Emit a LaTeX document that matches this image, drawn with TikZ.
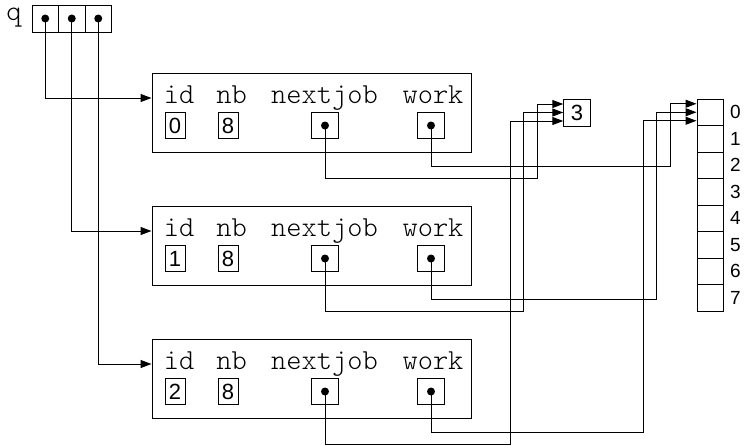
\documentclass[tikz,border=0pt]{standalone}
\usepackage{fontspec}
\setsansfont{Liberation Sans}
\newfontfamily\thinmono{Latin Modern Mono Light}
\usepackage{tikz}
\usetikzlibrary{arrows.meta, positioning}

\tikzstyle{record} = [draw, rectangle, minimum width=319pt, minimum height=79pt, inner sep=0]
\tikzstyle{cell} = [draw, rectangle, minimum width=26.5pt, minimum height=26.5pt, inner sep=0, font=\sffamily\fontsize{22}{22}\selectfont]
\tikzstyle{numbox} = [cell, minimum width=20pt]
\tikzstyle{field} = [inner sep=0, font=\thinmono\fontsize{29}{29}\selectfont]
\tikzstyle{dot} = [circle, fill, inner sep=0, minimum size=8pt]
\tikzstyle{idx} = [inner sep=0, font=\sffamily\fontsize{19}{19}\selectfont]
\tikzstyle{arrow} = [draw, -{Triangle[length=11pt,width=8pt]}]

\begin{document}
\begin{tikzpicture}[x=1pt, y=-1pt, line width=1pt]
    \useasboundingbox (0,0) rectangle (745,445);

    % queue head
    \node (qlabel) [field, anchor=base] at (14,20.5) {q};
    \foreach \k/\x in {a/45.25, b/71.75, c/98.25} {
        \node (q\k) [cell, minimum height=27pt] at (\x,18.5) {};
        \node (qd\k) [dot] at (q\k) {};
    }

    % job records
    \foreach \i/\v/\yy in {1/0/0, 2/1/133, 3/2/266} {
        \node (rec\i) [record] at (311.5,{112.5+\yy}) {};
        \node (id\i) [field, anchor=base] at (179,{103+\yy}) {id};
        \node (nb\i) [field, anchor=base] at (231.5,{103+\yy}) {nb};
        \node (nj\i) [field, anchor=base] at (324.5,{103+\yy}) {nextjob};
        \node (wk\i) [field, anchor=base] at (433,{103+\yy}) {work};
        \node (idv\i) [numbox] at (175,{125.5+\yy}) {\v};
        \node (nbv\i) [numbox] at (228,{125.5+\yy}) {8};
        \node (njv\i) [cell] at (325,{125.5+\yy}) {};
        \node (wkv\i) [cell] at (431,{125.5+\yy}) {};
        \node (njd\i) [dot] at (njv\i) {};
        \node (wkd\i) [dot] at (wkv\i) {};
    }

    % shared job and work array
    \node (three) [cell, minimum height=27pt] at (577,112.5) {3};
    \foreach \k in {0,...,7} {
        \node (arr\k) [cell, minimum width=26pt] at (710,{112.25+26.5*\k}) {};
        \node (ix\k) [idx, right=6pt of arr\k] {\k};
    }

    \foreach \k/\i in {a/1, b/2, c/3}
        \draw [arrow] (qd\k.center) |- ([yshift=14.5pt]rec\i.west);

    \foreach \i/\dy/\dx in {1/8.5pt/26pt, 2/0pt/40pt, 3/-8.5pt/53pt} {
        \draw [arrow] (njd\i.center) -- ++(0,52.5) -| ([xshift=-\dx, yshift=\dy]three.west) -- ([yshift=\dy]three.west);
        \draw [arrow] (wkd\i.center) -- ++(0,40.5) -| ([xshift=-\dx, yshift=\dy]arr0.west) -- ([yshift=\dy]arr0.west);
    }
\end{tikzpicture}
\end{document}
